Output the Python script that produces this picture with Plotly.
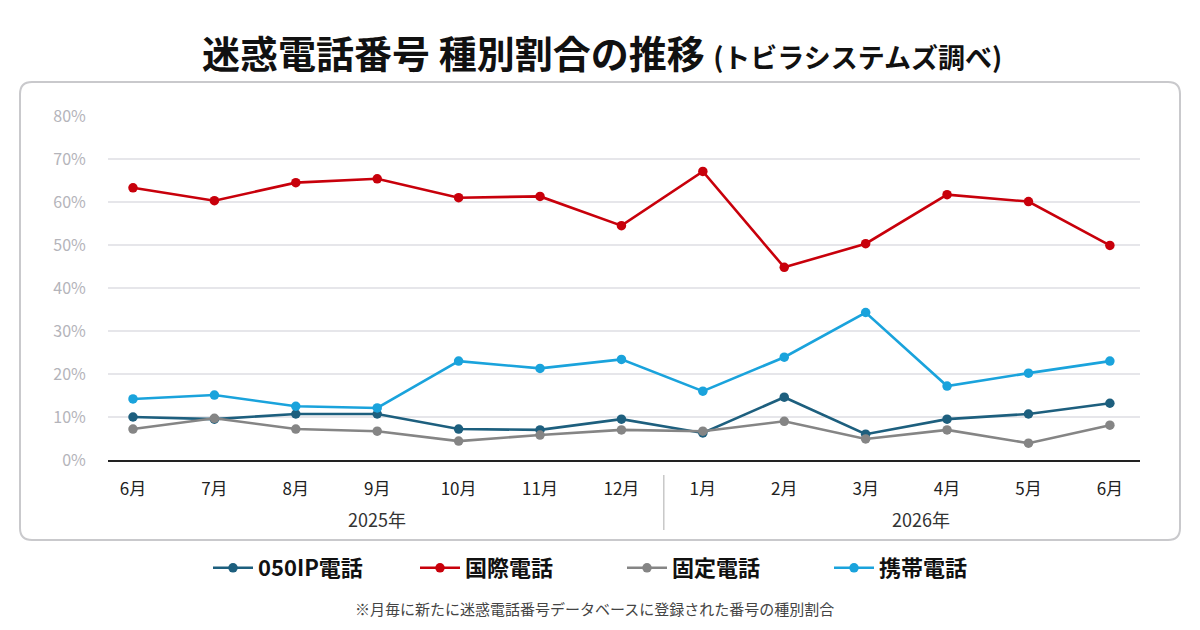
import plotly.graph_objects as go

months = ["6月", "7月", "8月", "9月", "10月", "11月", "12月", "1月", "2月", "3月", "4月", "5月", "6月"]
years = ["2025年", "2026年"]
ip050 = [10.0, 9.5, 10.7, 10.7, 7.2, 7.0, 9.5, 6.3, 14.6, 6.0, 9.5, 10.7, 13.2]
kokusai = [63.3, 60.3, 64.5, 65.4, 61.0, 61.3, 54.5, 67.1, 44.8, 50.3, 61.7, 60.1, 49.9]
kotei = [7.2, 9.7, 7.2, 6.7, 4.4, 5.8, 7.0, 6.7, 9.0, 4.9, 7.0, 3.9, 8.1]
keitai = [14.2, 15.1, 12.5, 12.1, 23.0, 21.3, 23.4, 16.0, 23.9, 34.3, 17.2, 20.2, 23.0]
series_names = ["050IP電話", "国際電話", "固定電話", "携帯電話"]
colors = ["#1d5f7e", "#c8000b", "#858585", "#1aa3dc"]

FONT = "Noto Sans CJK JP"
xs = list(range(len(months)))

# pixel geometry helpers
L, R, T, B = 108, 1140, 116, 460
def px(xp):
    return (xp - L) / (R - L)
def py(yp):
    return (B - yp) / (B - T)

fig = go.Figure()
for name, vals, c in zip(series_names, [ip050, kokusai, kotei, keitai], colors):
    fig.add_trace(go.Scatter(
        x=xs, y=[v / 100 for v in vals], name=name, mode="lines+markers",
        line=dict(color=c, width=2.6), marker=dict(color=c, size=9.5),
    ))

# rounded panel
x0, x1, y0, y1, r = 20, 1180, 82, 540, 12
rx = r / (R - L)
ry = r / (B - T)
X0, X1, Y0, Y1 = px(x0), px(x1), py(y1), py(y0)
path = (f"M {X0+rx},{Y1} L {X1-rx},{Y1} Q {X1},{Y1} {X1},{Y1-ry} "
        f"L {X1},{Y0+ry} Q {X1},{Y0} {X1-rx},{Y0} L {X0+rx},{Y0} "
        f"Q {X0},{Y0} {X0},{Y0+ry} L {X0},{Y1-ry} Q {X0},{Y1} {X0+rx},{Y1} Z")
shapes = [dict(type="path", xref="paper", yref="paper", path=path,
               line=dict(color="#c9c9cc", width=2), fillcolor="rgba(0,0,0,0)", layer="below"),
          dict(type="line", xref="x", yref="paper", x0=6.52, x1=6.52, y0=py(475), y1=py(530),
               line=dict(color="#c8c8c8", width=1.5))]

def ann(**kw):
    d = dict(showarrow=False, xanchor="center", yanchor="middle")
    d.update(kw)
    return d

annotations = [
    ann(xref="x", yref="paper", x=3.0, y=py(519), text=years[0],
        font=dict(family=FONT, size=18, color="#333")),
    ann(xref="x", yref="paper", x=9.68, y=py(519), text=years[1],
        font=dict(family=FONT, size=18, color="#333")),
    ann(xref="paper", yref="paper", x=px(602), y=py(51),
        text="<b>迷惑電話番号 種別割合の推移</b> <span style='font-size:27px'><b>(トビラシステムズ調べ)</b></span>",
        font=dict(family=FONT, size=38, color="#111")),
    ann(xref="paper", yref="paper", x=px(594), y=py(608),
        text="※月毎に新たに迷惑電話番号データベースに登録された番号の種別割合",
        font=dict(family=FONT, size=15, color="#444")),
]

fig.update_layout(
    width=1200, height=630, paper_bgcolor="white", plot_bgcolor="white",
    margin=dict(l=L, r=1200 - R, t=T, b=630 - B),
    font=dict(family=FONT),
    shapes=shapes, annotations=annotations,
    legend=dict(orientation="h", x=px(622), xanchor="center", y=py(568), yanchor="middle",
                font=dict(family=FONT, size=22, color="#111", weight="bold"),
                entrywidth=152, itemwidth=40, bgcolor="rgba(0,0,0,0)"),
    xaxis=dict(range=[-0.307, 12.37], tickmode="array", tickvals=xs, ticktext=months,
               showgrid=False, zeroline=False, showline=True, linecolor="#222", linewidth=2,
               ticks="outside", ticklen=13, tickcolor="rgba(0,0,0,0)",
               tickfont=dict(family=FONT, size=17, color="#222")),
    yaxis=dict(range=[0, 0.8], tickvals=[0, .1, .2, .3, .4, .5, .6, .7, .8], tickformat=".0%",
               showgrid=True, gridcolor="#e6e6ea", gridwidth=1.5, zeroline=False, showline=False,
               ticks="outside", ticklen=18, tickcolor="rgba(0,0,0,0)",
               tickfont=dict(family=FONT, size=16, color="#b4b4ba")),
)

fig.write_html("out.html")
